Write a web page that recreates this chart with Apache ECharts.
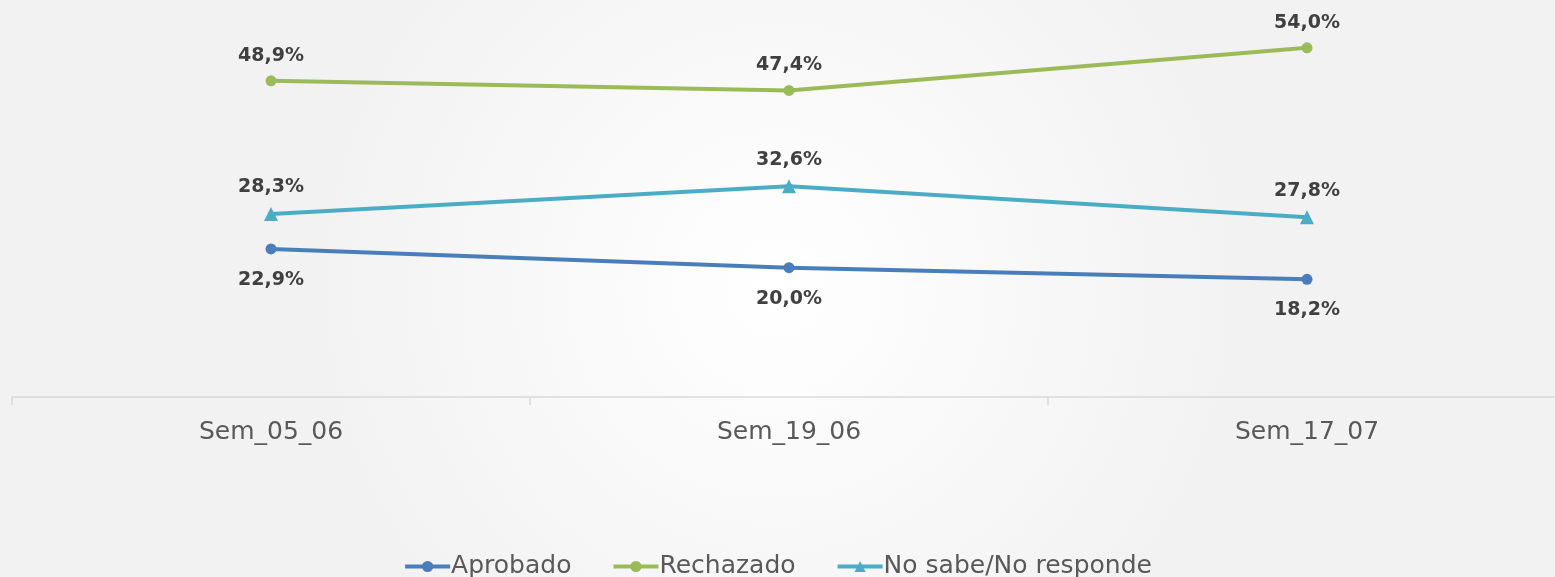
<!DOCTYPE html>
<html>
<head>
    <meta charset="utf-8">
    <title>ECharts</title>
    <script src="https://cdn.jsdelivr.net/npm/echarts@6/dist/echarts.min.js"></script>
    <style>
        *{
            margin: 0;
            padding: 0;
        }
        html,body{
            width: 100%;
            height: 100%;
            overflow: hidden;
        }
        .container{
            width: 1555px;
            height: 577px;
        }
    </style>
</head>
<body>
<div class="container"></div>

<script>
    // datos
    let categories = ['Sem_05_06', 'Sem_19_06', 'Sem_17_07'];
    let aprobado = [22.9, 20.0, 18.2];
    let rechazado = [48.9, 47.4, 54.0];
    let noSabe = [28.3, 32.6, 27.8];

    let labelFont = {
        show: true,
        fontFamily: 'DejaVu Sans',
        fontWeight: 'bold',
        fontSize: 19,
        color: '#404040',
        formatter: p => p.value.toFixed(1).replace('.', ',') + '%'
    };

    function makeSeries(name, data, color, symbol, pos) {
        return {
            name,
            type: 'line',
            data,
            symbol,
            symbolSize: symbol == 'triangle' ? 14 : 11,
            lineStyle: { width: 4, color },
            itemStyle: { color },
            label: Object.assign({}, labelFont, { position: pos, distance: pos == 'top' ? 10 : 16 }),
            z: 3
        };
    }

    let chart = echarts.init(document.getElementsByClassName('container')[0]);
    let option = {
        backgroundColor: new echarts.graphic.RadialGradient(0.5, 0.5, 0.8, [
            { offset: 0, color: '#ffffff' },
            { offset: 1, color: '#f2f2f2' }
        ]),
        animation: false,
        grid: {
            left: 12,
            width: 1554,
            top: 9,
            bottom: 180,
            outerBoundsMode: 'none'
        },
        xAxis: {
            type: 'category',
            data: categories,
            boundaryGap: true,
            axisLine: { lineStyle: { color: '#d9d9d9', width: 1.5 } },
            axisTick: { show: true, length: 8, lineStyle: { color: '#d9d9d9', width: 1.5 } },
            axisLabel: {
                margin: 23,
                fontFamily: 'DejaVu Sans',
                fontSize: 25,
                color: '#595959'
            }
        },
        yAxis: {
            type: 'value',
            min: 0,
            max: 60,
            show: false,
            splitLine: { show: false }
        },
        legend: {
            top: 549,
            left: 'center',
            itemWidth: 45,
            itemHeight: 14,
            itemGap: 40,
            lineStyle: { width: 4 },
            textStyle: {
                fontFamily: 'DejaVu Sans',
                fontSize: 25,
                color: '#595959',
                padding: [0, 0, 0, -4]
            },
            data: ['Aprobado', 'Rechazado', 'No sabe/No responde']
        },
        series: [
            makeSeries('Aprobado', aprobado, '#4a7ebb', 'circle', 'bottom'),
            makeSeries('Rechazado', rechazado, '#9bbb59', 'circle', 'top'),
            makeSeries('No sabe/No responde', noSabe, '#4bacc6', 'triangle', 'top')
        ]
    };
    chart.setOption(option);
</script>
</body>
</html>
